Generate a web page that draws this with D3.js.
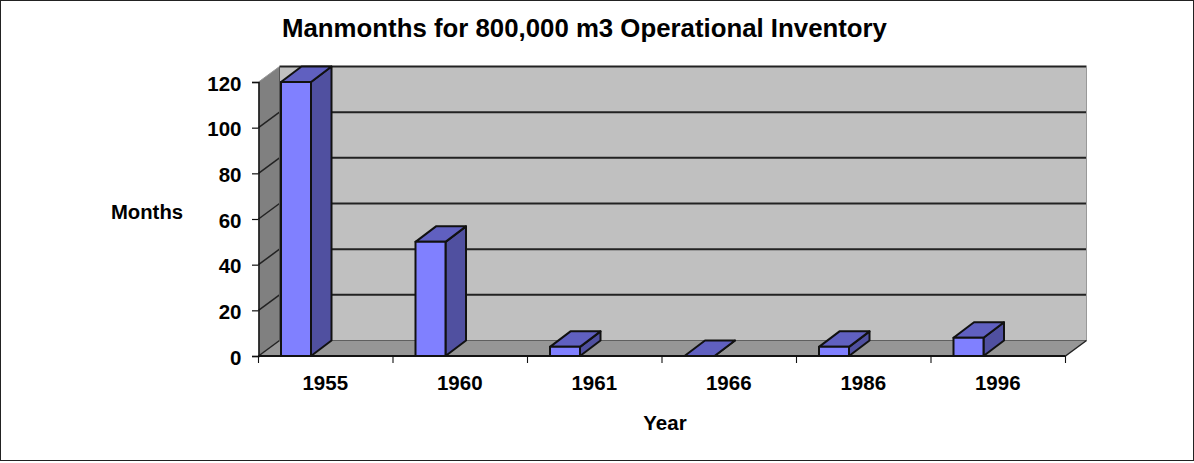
<!DOCTYPE html>
<html><head><meta charset="utf-8">
<script src="https://cdnjs.cloudflare.com/ajax/libs/d3/7.8.5/d3.min.js"></script>
<style>html,body{margin:0;padding:0;background:#fff}svg{display:block}text{font-family:"Liberation Sans",Arial,sans-serif;font-weight:bold;fill:#000}</style>
</head><body><svg id="c" width="1194" height="463"></svg>
<script>
const categories = ["1955","1960","1961","1966","1986","1996"];
const months = [120,50,4,0,4,8];
const yTicks = [0,20,40,60,80,100,120];
const titleText = "Manmonths for 800,000 m3 Operational Inventory";
const yTitle = "Months", xTitle = "Year";

const svg = d3.select("#c");
const L=258.5,R=1065.5,B=356,T=82,dx=21,dy=-15.5;
const x=d3.scaleBand().domain(categories).range([L,R]);
const y=d3.scaleLinear().domain([0,120]).range([B,T]);
const barW=30, barOff=22.5, barDx=20.5;
const dark="#111";
const poly=(pts,fill,stroke,sw)=>svg.append("polygon").attr("points",pts.map(p=>p.join(",")).join(" ")).attr("fill",fill).attr("stroke",stroke||"none").attr("stroke-width",sw||0).attr("stroke-linejoin","round");
const line=(a,b,c,w)=>svg.append("line").attr("x1",a[0]).attr("y1",a[1]).attr("x2",b[0]).attr("y2",b[1]).attr("stroke",c||dark).attr("stroke-width",w||1.5);

svg.append("rect").attr("x",0.5).attr("y",0.5).attr("width",1193).attr("height",460).attr("fill","#fff").attr("stroke","#222").attr("stroke-width",1);

// walls
poly([[L+dx,y(120)+dy],[R+dx,y(120)+dy],[R+dx,B+dy],[L+dx,B+dy]],"#c0c0c0");
poly([[L,T],[L+dx,T+dy],[L+dx,B+dy],[L,B]],"#808080");
poly([[L,B],[L+dx,B+dy],[R+dx,B+dy],[R,B]],"#969696");
// gridlines
yTicks.forEach(t=>{
  if(t!==120) line([L,y(t)],[L+dx,y(t)+dy],"#222",1.5);
  line([L+dx,y(t)+dy],[R+dx,y(t)+dy],"#222",t===0?0.6:2);
});
line([L,T],[L+dx,T+dy],"#999",1);
line([L+dx,y(120)+dy],[L+dx,B+dy],"#555",1);
line([R+dx,y(120)+dy],[R+dx,B+dy],"#999",1);
line([R,B],[R+dx,B+dy],"#222",1.5);
// bars
categories.forEach((c,i)=>{
  const x0=x(c)+barOff,x1=x0+barW,yt=y(months[i]);
  const top=Math.max(yt+dy,y(120)+dy);
  poly([[x1,yt],[x1+barDx,top],[x1+barDx,B+dy],[x1,B]],"#5050a0",dark,2);
  poly([[x0,yt],[x0+barDx,top],[x1+barDx,top],[x1,yt]],"#6060c0",dark,2);
  poly([[x0,yt],[x1,yt],[x1,B],[x0,B]],"#8080ff",dark,2);
});
// axes
svg.append("g").attr("transform",`translate(${L},0)`).call(d3.axisLeft(y).tickValues(yTicks).tickSize(6.5).tickPadding(10.5))
  .call(g=>{g.select(".domain").attr("stroke",dark).attr("stroke-width",1.5);g.selectAll("line").attr("stroke",dark).attr("stroke-width",1.2);g.selectAll("text").attr("dy","0.4em").style("font-size","20.5px").style("font-family",'"Liberation Sans"').attr("fill","#000")});
line([L,B],[R,B],dark,2);
categories.concat([""]).forEach((c,i)=>{const px=L+i*x.step();line([px,B],[px,B+7],dark,1.1);});
categories.forEach(c=>svg.append("text").attr("x",x(c)+x.bandwidth()/2-0.5).attr("y",390).attr("text-anchor","middle").style("font-size","20.5px").text(c));
svg.append("text").attr("x",584.5).attr("y",37).attr("text-anchor","middle").style("font-size","25.8px").text(titleText);
svg.append("text").attr("x",147).attr("y",219).attr("text-anchor","middle").style("font-size","20.3px").text(yTitle);
svg.append("text").attr("x",665).attr("y",430).attr("text-anchor","middle").style("font-size","20.5px").text(xTitle);
</script></body></html>
